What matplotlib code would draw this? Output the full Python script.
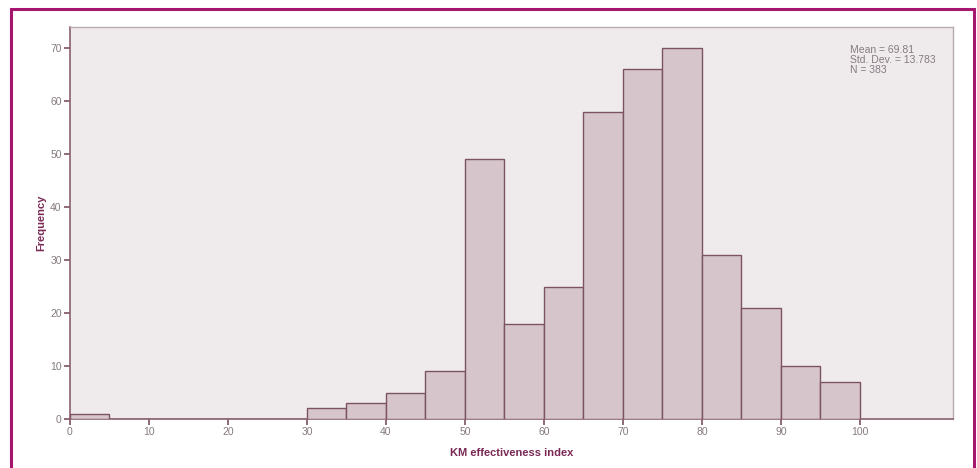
import matplotlib
matplotlib.use("Agg")
import matplotlib.pyplot as plt
import matplotlib.patches as mpatches
import numpy as np

bin_edges = [0, 5, 10, 15, 20, 25, 30, 35, 40, 45, 50, 55, 60, 65, 70, 75, 80, 85, 90, 95, 100]
frequencies = [1, 0, 0, 0, 0, 0, 2, 3, 5, 9, 49, 18, 25, 58, 66, 70, 31, 21, 10, 7]
x_ticks = [0, 10, 20, 30, 40, 50, 60, 70, 80, 90, 100]
y_ticks = [0, 10, 20, 30, 40, 50, 60, 70]
stats_text = "Mean = 69.81\nStd. Dev. = 13.783\nN = 383"
x_label = "KM effectiveness index"
y_label = "Frequency"

plt.rcParams['font.family'] = ['Liberation Sans', 'DejaVu Sans']

fig = plt.figure(figsize=(9.78, 4.68), dpi=100)
ax = fig.add_axes([70/978, 49/468, 883/978, 392/468])
ax.set_facecolor('#EFEBED')

lefts = np.array(bin_edges[:-1])
widths = np.diff(bin_edges)
ax.bar(lefts, frequencies, width=widths, align='edge', color='#D6C6CC',
       edgecolor='#7D5262', linewidth=1.0, zorder=3)

ax.set_xlim(0, 111.8)
ax.set_ylim(0, 74)
ax.set_xticks(x_ticks)
ax.set_yticks(y_ticks)
ax.tick_params(axis='both', direction='out', length=4, width=1.2, color='#7D5262',
               labelsize=7.5, labelcolor='#857A80', pad=2)

for s in ['top', 'right']:
    ax.spines[s].set_color('#B8AAB0')
    ax.spines[s].set_linewidth(1.0)
for s in ['left', 'bottom']:
    ax.spines[s].set_color('#8A6070')
    ax.spines[s].set_linewidth(1.2)

ax.set_xlabel(x_label, fontsize=8, fontweight='bold', color='#7A2A55', labelpad=8)
ax.set_ylabel(y_label, fontsize=8, fontweight='bold', color='#7A2A55', labelpad=3)

ax.text(850/978, 1 - 45/468, stats_text, transform=fig.transFigure, fontsize=7.5,
        color='#857A80', va='top', ha='left', linespacing=1.0)

border = mpatches.Rectangle((11/978, -0.05), (974-11)/978, 1.05 - 9/468,
                            transform=fig.transFigure, fill=False,
                            edgecolor='#A5166E', linewidth=2.2, clip_on=False)
fig.patches.append(border)

fig.savefig('out.png', dpi=100, facecolor='white')
